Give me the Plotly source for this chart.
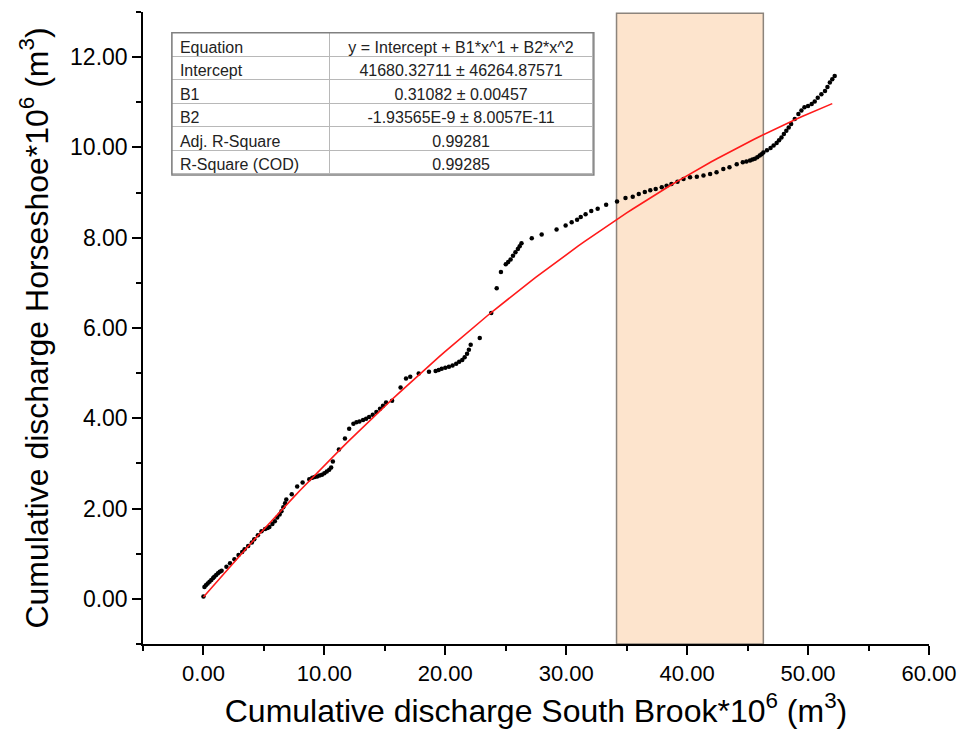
import plotly.graph_objects as go

# Observed points (x: South Brook, y: Horseshoe), units of 10^6 m^3
obs_x = [0.0, 0.08, 0.2, 0.35, 0.5, 0.65, 0.8, 0.9, 1.05, 1.2, 1.35, 1.5, 1.9, 2.2, 2.56, 2.9, 3.2, 3.4, 3.7, 4.0, 4.2, 4.5, 4.8,
         5.1, 5.3, 5.45, 5.7, 5.9, 6.1, 6.3, 6.45, 6.6, 6.75, 6.85, 7.3, 7.75, 8.2, 8.75, 9.0, 9.2, 9.4, 9.6, 9.8, 10.0, 10.2, 10.4, 10.56,
         10.7, 11.2, 11.7, 12.05, 12.4, 12.65, 12.9, 13.2, 13.45, 13.7, 14.0, 14.3, 14.6, 14.85, 15.1, 15.6, 16.3, 16.75, 17.1,
         17.8, 18.65, 19.2, 19.45, 19.7, 20.0, 20.3, 20.6, 20.9, 21.15, 21.4, 21.6, 21.8, 21.95, 22.1, 22.85,
         23.8, 24.25, 24.6, 25.0, 25.2, 25.4, 25.6, 25.8, 26.0, 26.15, 26.3,
         27.15, 27.97, 29.2, 29.95, 30.45, 30.9, 31.2, 31.6, 32.07, 32.6, 33.3, 34.2, 34.9, 35.5, 36.0, 36.5, 36.95,
         37.4, 37.9, 38.3, 38.7, 39.2, 39.7, 40.24, 40.8, 41.35, 41.9, 42.43, 42.99, 43.5, 44.1, 44.6, 44.9, 45.2, 45.4,
         45.6, 45.8, 46.0, 46.15, 46.3, 46.6, 46.9, 47.15, 47.4, 47.6, 47.8, 48.0, 48.2, 48.4, 48.6, 48.9, 49.2, 49.45,
         49.7, 50.0, 50.3, 50.55, 50.8, 51.1, 51.4, 51.6, 51.8, 52.0, 52.2]
obs_y = [0.05, 0.26, 0.30, 0.34, 0.38, 0.42, 0.46, 0.49, 0.53, 0.57, 0.60, 0.62, 0.71, 0.79, 0.88, 0.97, 1.04, 1.10, 1.17, 1.25, 1.32, 1.41, 1.50,
         1.55, 1.57, 1.59, 1.66, 1.72, 1.80, 1.87, 1.94, 2.03, 2.12, 2.20, 2.32, 2.49, 2.58, 2.65, 2.68, 2.70, 2.71, 2.73, 2.75, 2.78, 2.82, 2.86, 2.91,
         3.04, 3.31, 3.55, 3.77, 3.88, 3.91, 3.93, 3.96, 3.99, 4.03, 4.08, 4.14, 4.21, 4.28, 4.35, 4.39, 4.68, 4.88, 4.92,
         4.99, 5.03, 5.05, 5.07, 5.10, 5.12, 5.14, 5.17, 5.21, 5.25, 5.29, 5.35, 5.43, 5.52, 5.63, 5.78,
         6.33, 6.88, 7.24, 7.41, 7.46, 7.52, 7.60, 7.68, 7.75, 7.81, 7.88,
         7.99, 8.07, 8.18, 8.27, 8.34, 8.40, 8.46, 8.52, 8.59, 8.64, 8.73, 8.80, 8.88, 8.91, 8.97, 9.01, 9.05,
         9.08, 9.12, 9.15, 9.19, 9.24, 9.30, 9.34, 9.35, 9.38, 9.41, 9.45, 9.52, 9.56, 9.63, 9.67, 9.69, 9.71, 9.73,
         9.75, 9.78, 9.82, 9.85, 9.89, 9.94, 9.99, 10.04, 10.10, 10.16, 10.22, 10.30, 10.37, 10.44, 10.52, 10.63, 10.74, 10.82,
         10.89, 10.92, 10.96, 11.02, 11.10, 11.18, 11.25, 11.34, 11.44, 11.51, 11.58]

# Fit parameters (polynomial y = Intercept + B1*x + B2*x^2, original units m^3)
intercept = 41680.32711
b1 = 0.31082
b2 = -1.93565e-9
fit_x = [i * 0.5 for i in range(0, 105)]

# Highlighted period on the x axis
band_x = [34.16, 46.3]

table_labels = ["Equation", "Intercept", "B1", "B2", "Adj. R-Square", "R-Square (COD)"]
table_values = ["y = Intercept + B1*x^1 + B2*x^2", "41680.32711 \u00b1 46264.87571", "0.31082 \u00b1 0.00457",
                "-1.93565E-9 \u00b1 8.0057E-11", "0.99281", "0.99285"]

fit_y = [(intercept + b1 * (x * 1e6) + b2 * (x * 1e6) ** 2) / 1e6 for x in fit_x]

FONT = "Arial, 'Liberation Sans', sans-serif"

fig = go.Figure()
fig.add_trace(go.Scatter(x=obs_x, y=obs_y, mode="markers",
                         marker=dict(color="black", size=4.5), showlegend=False))
fig.add_trace(go.Scatter(x=fit_x, y=fit_y, mode="lines",
                         line=dict(color="#ff1a1a", width=1.6), showlegend=False))

fig.add_shape(type="rect", xref="x", yref="y", x0=band_x[0], x1=band_x[1], y0=-1, y1=12.97,
              fillcolor="#fde4cd", line=dict(color="#8c847c", width=1.5), layer="below")

# outer frame of the table
fig.add_shape(type="rect", xref="paper", yref="paper", x0=0.0368, x1=0.5736, y0=0.742, y1=0.967,
              line=dict(color="#808080", width=1.5), fillcolor="rgba(0,0,0,0)", layer="above")

fig.add_trace(go.Table(
    domain=dict(x=[0.0368, 0.5736], y=[0.742, 0.967]),
    columnwidth=[158, 265],
    header=dict(values=[table_labels[0], table_values[0]],
                align=["left", "center"], height=23.5,
                fill_color="white", line=dict(color="#b8b8b8", width=1),
                font=dict(family=FONT, size=16, color="#222")),
    cells=dict(values=[table_labels[1:], table_values[1:]],
               align=["left", "center"], height=23.5,
               fill_color="white", line=dict(color="#b8b8b8", width=1),
               font=dict(family=FONT, size=16, color="#222")),
))

fig.update_layout(
    width=969, height=751,
    margin=dict(l=143, r=38, t=12, b=107),
    paper_bgcolor="white", plot_bgcolor="white",
    font=dict(family=FONT, color="black"),
    xaxis=dict(range=[-5, 60], tickmode="linear", tick0=0, dtick=10, tickformat=".2f",
               showgrid=False, zeroline=False, showline=True, linecolor="black", linewidth=1.5,
               ticks="outside", ticklen=9, tickwidth=1.5, tickcolor="black",
               minor=dict(tickmode="linear", tick0=5, dtick=10, ticks="outside", ticklen=5, tickwidth=1.5, tickcolor="black"),
               tickfont=dict(size=22),
               title=dict(text="Cumulative discharge South Brook*10<sup>6</sup> (m<sup>3</sup>)", font=dict(size=32), standoff=14)),
    yaxis=dict(range=[-1, 13], tickmode="linear", tick0=0, dtick=2, tickformat=".2f",
               showgrid=False, zeroline=False, showline=True, linecolor="black", linewidth=1.5,
               ticks="outside", ticklen=9, tickwidth=1.5, tickcolor="black",
               minor=dict(tickmode="linear", tick0=1, dtick=2, ticks="outside", ticklen=5, tickwidth=1.5, tickcolor="black"),
               tickfont=dict(size=23),
               title=dict(text="Cumulative discharge Horseshoe*10<sup>6</sup> (m<sup>3</sup>)", font=dict(size=32), standoff=12)),
)

fig.write_html("out.html")
